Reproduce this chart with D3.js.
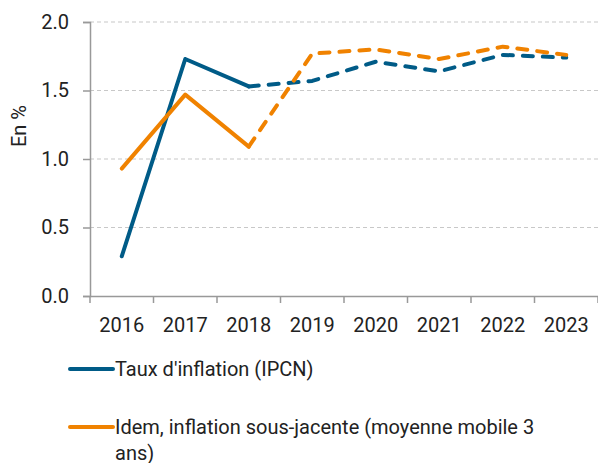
<!DOCTYPE html>
<html>
<head>
<meta charset="utf-8">
<script src="https://cdn.jsdelivr.net/npm/d3@7"></script>
<style>
body { margin: 0; background: #fff; }
text { font-family: Roboto, "Liberation Sans", sans-serif; fill: #222; }
</style>
</head>
<body>
<div id="chart"></div>
<script>
var years = ["2016", "2017", "2018", "2019", "2020", "2021", "2022", "2023"];
var ipcn = [0.29, 1.73, 1.53, 1.57, 1.71, 1.64, 1.76, 1.74];
var core = [0.93, 1.47, 1.09, 1.77, 1.80, 1.73, 1.82, 1.76];
var yTicks = [0, 0.5, 1, 1.5, 2];
var seriesNames = ["Taux d'inflation (IPCN)", "Idem, inflation sous-jacente (moyenne mobile 3 ans)"];
var colors = ["#005b87", "#f08200"];
var lastActual = 2; // index of 2018, forecasts dashed after

var W = 598, H = 463;
var margin = {top: 22, right: 0, bottom: 167, left: 90};

var svg = d3.select("#chart").append("svg")
  .attr("width", W).attr("height", H);

var x = d3.scaleBand().domain(years).range([margin.left, W - margin.right]);
var y = d3.scaleLinear().domain([0, 2]).range([H - margin.bottom, margin.top]);

// grid
svg.append("g").selectAll("line")
  .data(yTicks.filter(function(d) { return d > 0; }))
  .enter().append("line")
  .attr("x1", margin.left).attr("x2", W)
  .attr("y1", function(d) { return y(d); }).attr("y2", function(d) { return y(d); })
  .style("stroke", "#c8c8c8").style("stroke-width", 1.2)
  .style("stroke-dasharray", "4,3");

// y axis
var yAxis = svg.append("g")
  .attr("transform", "translate(" + margin.left + ",0)")
  .call(d3.axisLeft(y).tickValues(yTicks).tickFormat(d3.format(".1f")).tickSize(7).tickPadding(14));
yAxis.select(".domain").style("stroke", "#999").style("stroke-width", 1.5);
yAxis.selectAll(".tick line").style("stroke", "#999").style("stroke-width", 1.5);
yAxis.selectAll("text").style("font-size", "20px").style("fill", "#222");

// x axis
var xAxis = svg.append("g")
  .attr("transform", "translate(0," + y(0) + ")")
  .call(d3.axisBottom(x).tickSize(0).tickPadding(22));
xAxis.select(".domain").style("stroke", "#999").style("stroke-width", 1.5);
xAxis.selectAll("text").style("font-size", "20px").style("fill", "#222");

// ticks at band boundaries
svg.append("g").selectAll("line")
  .data(years.concat(["end"]))
  .enter().append("line")
  .attr("x1", function(d, i) { return margin.left + i * x.step(); })
  .attr("x2", function(d, i) { return margin.left + i * x.step(); })
  .attr("y1", y(0)).attr("y2", y(0) + 7)
  .style("stroke", "#999").style("stroke-width", 1.5);

// y title
svg.append("text")
  .attr("transform", "translate(26," + 126 + ") rotate(-90)")
  .attr("text-anchor", "middle")
  .style("font-size", "20px")
  .text("En %");

var line = d3.line()
  .x(function(d) { return x(d.year) + x.bandwidth() / 2; })
  .y(function(d) { return y(d.v); });

[ipcn, core].forEach(function(vals, s) {
  var pts = vals.map(function(v, i) { return {year: years[i], v: v}; });
  svg.append("path")
    .datum(pts.slice(0, lastActual + 1))
    .attr("d", line)
    .style("fill", "none").style("stroke", colors[s])
    .style("stroke-width", 4).style("stroke-linejoin", "round").style("stroke-linecap", "round");
  svg.append("path")
    .datum(pts.slice(lastActual))
    .attr("d", line)
    .style("fill", "none").style("stroke", colors[s])
    .style("stroke-width", 4).style("stroke-linejoin", "round").style("stroke-linecap", "round")
    .style("stroke-dasharray", "10,10");
});

// legend
var legY = [369, 427];
seriesNames.forEach(function(name, s) {
  var g = svg.append("g");
  g.append("line")
    .attr("x1", 70).attr("x2", 113)
    .attr("y1", legY[s]).attr("y2", legY[s])
    .style("stroke", colors[s]).style("stroke-width", 4).style("stroke-linecap", "round");
  var t = g.append("text")
    .attr("x", 115).attr("y", legY[s] + 7)
    .style("font-size", "20px");
  if (s === 1) {
    t.append("tspan").attr("x", 115).text("Idem, inflation sous-jacente (moyenne mobile 3");
    t.append("tspan").attr("x", 115).attr("dy", 26).text("ans)");
  } else {
    t.text(name);
  }
});
</script>
</body>
</html>
